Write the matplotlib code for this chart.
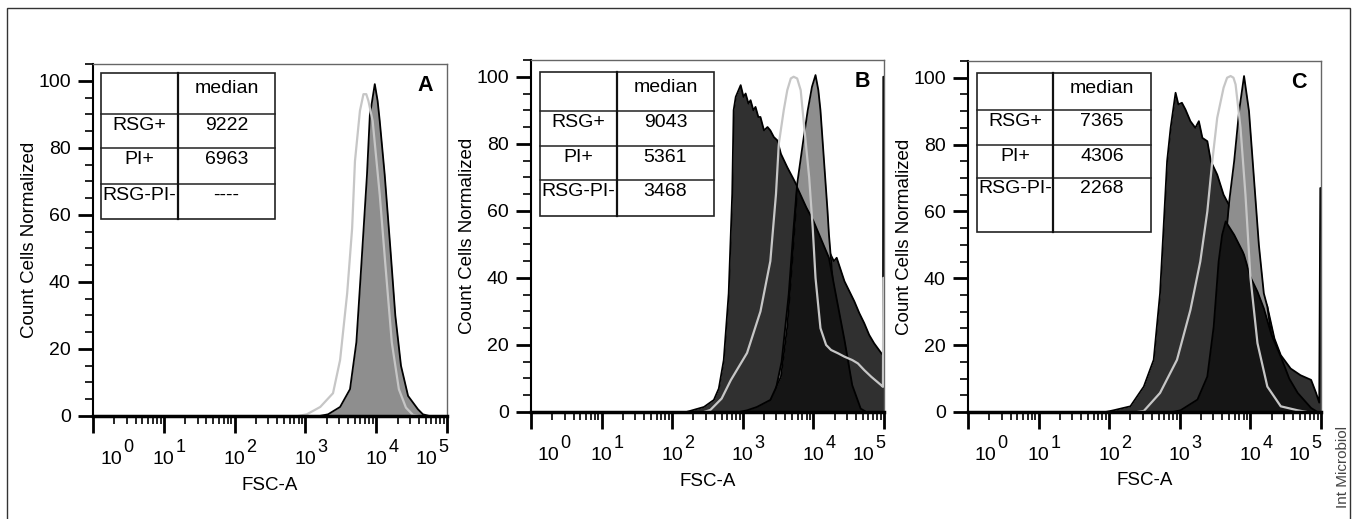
import numpy as np
import matplotlib
matplotlib.use("Agg")
import matplotlib.pyplot as plt
from matplotlib.patches import Rectangle
from matplotlib.ticker import LogLocator, MultipleLocator, NullFormatter

plt.rcParams['font.family'] = ['Liberation Sans', 'DejaVu Sans']

# --- data (x as log10 FSC-A, y as normalized count) ---
row_labels = ["RSG+", "PI+", "RSG-PI-"]
medians_a = ["9222", "6963", "----"]
medians_b = ["9043", "5361", "3468"]
medians_c = ["7365", "4306", "2268"]

# panel A
a_pi_lx = [2.90, 3.02, 3.21, 3.39, 3.49, 3.59, 3.66, 3.70, 3.77, 3.82, 3.86, 3.89, 3.95, 4.05, 4.13, 4.22, 4.32, 4.42, 4.52, 4.60]
a_pi_y = [0, 0.5, 2.7, 6.8, 16.7, 36.6, 56, 76, 91, 96, 96, 94, 88, 66, 45, 22, 8, 2.5, 0.3, 0]
a_rsg_lx = [3.20, 3.32, 3.49, 3.63, 3.72, 3.79, 3.87, 3.91, 3.98, 4.02, 4.05, 4.12, 4.20, 4.27, 4.35, 4.45, 4.59, 4.66, 4.75]
a_rsg_y = [0, 0.5, 2.7, 8, 22, 45, 72, 89.6, 99, 94, 88, 72, 50, 30, 15, 6, 2, 0.5, 0]

# panel B
b_all_lx = [2.20, 2.30, 2.45, 2.59, 2.66, 2.73, 2.80, 2.85, 2.87, 2.90, 2.94, 2.97, 3.01, 3.04, 3.08, 3.11,
            3.15, 3.18, 3.22, 3.25, 3.30, 3.35, 3.39, 3.44, 3.49, 3.54, 3.63, 3.73, 3.80, 3.87, 3.94, 4.01,
            4.08, 4.15, 4.22, 4.29, 4.33, 4.44, 4.51, 4.58, 4.65, 4.72, 4.79, 4.86, 4.96, 4.985, 4.99, 5.0]
b_all_y = [0, 0.6, 1.5, 3.6, 7, 15.5, 35.4, 65, 90, 94, 96, 97.5, 94, 95, 92, 93,
           90, 91, 88, 88, 84, 85, 84, 82, 81, 77, 73, 69, 66, 63, 60, 57,
           54, 51, 48, 45, 46, 39, 36, 33, 29.5, 26.5, 23, 20.5, 17.6, 17, 100, 100]
b_pi_lx = [2.45, 2.54, 2.70, 2.83, 3.06, 3.25, 3.39, 3.47, 3.51, 3.58, 3.63, 3.68, 3.72, 3.77, 3.82, 3.87,
           3.94, 3.99, 4.03, 4.10, 4.18, 4.25, 4.35, 4.44, 4.55, 4.63, 4.72, 4.82, 4.96, 4.985, 4.99, 5.0]
b_pi_y = [0, 0.6, 4, 9.5, 17.6, 30, 45, 65, 80, 90, 96, 99.5, 100, 99.5, 96, 85,
          70, 55, 40, 25, 20, 18.5, 17.5, 16.5, 15.5, 14.5, 12.5, 10.5, 8, 7.5, 40, 40]
b_rsg_lx = [3.30, 3.45, 3.55, 3.65, 3.72, 3.77, 3.85, 3.92, 3.98, 4.03, 4.07, 4.10, 4.15, 4.20, 4.22, 4.29, 4.39, 4.53, 4.67]
b_rsg_y = [0, 5, 15, 35, 55, 68, 80, 90, 97, 100.5, 96, 90, 75, 60, 53, 35, 15.5, 2.7, 0]
b_neg_lx = [2.95, 3.06, 3.20, 3.39, 3.54, 3.63, 3.70, 3.75, 3.77, 3.90, 4.00, 4.10, 4.22, 4.30, 4.44, 4.55, 4.67, 4.75]
b_neg_y = [0, 0.5, 1.5, 3.6, 10.5, 25.4, 45, 60, 67, 61, 57, 52, 46, 37, 21.5, 8, 1, 0]

# panel C
c_all_lx = [1.95, 2.06, 2.30, 2.49, 2.63, 2.72, 2.77, 2.82, 2.87, 2.94, 2.98, 3.03, 3.08, 3.15, 3.22, 3.27,
            3.32, 3.39, 3.44, 3.53, 3.62, 3.72, 3.81, 3.91, 4.00, 4.10, 4.19, 4.24, 4.34, 4.43, 4.57, 4.71,
            4.86, 4.93, 4.975, 4.99, 5.0]
c_all_y = [0, 0.5, 1.7, 7.6, 15.6, 35.5, 55, 75, 85, 95.5, 92, 92.5, 90.5, 87, 85, 87,
           82, 81, 75, 71, 65, 61, 55, 49, 43, 38, 34, 31.5, 22, 17, 13, 11,
           9.6, 5.7, 2.8, 67, 67]
c_pi_lx = [2.40, 2.49, 2.72, 2.96, 3.15, 3.29, 3.39, 3.46, 3.53, 3.62, 3.67, 3.72, 3.76, 3.79, 3.86, 3.93,
           4.00, 4.10, 4.24, 4.43, 4.67, 4.80]
c_pi_y = [0, 0.3, 5.7, 15.6, 30.5, 45, 60, 75, 88, 97, 100, 100.5, 100, 98, 85, 65,
          40.4, 20.6, 7.6, 1.7, 0.5, 0]
c_rsg_lx = [3.20, 3.40, 3.50, 3.60, 3.70, 3.77, 3.84, 3.91, 3.98, 4.05, 4.12, 4.19, 4.24, 4.35, 4.50, 4.60]
c_rsg_y = [0, 8, 20, 40, 63, 75, 90, 100.5, 90, 70, 50, 35.5, 31.5, 15, 4, 0]
c_neg_lx = [2.90, 3.01, 3.25, 3.39, 3.48, 3.55, 3.60, 3.65, 3.77, 3.89, 3.91, 4.00, 4.10, 4.19, 4.30, 4.43,
            4.55, 4.67, 4.86, 4.95]
c_neg_y = [0, 0.5, 3.7, 10.6, 25.5, 45, 53, 57, 53, 48, 47, 40.4, 36, 31, 23, 16.6,
           10, 5.7, 1.2, 0]

W, H = 1354, 519
fig = plt.figure(figsize=(W / 100, H / 100), dpi=100)

# axes boxes in pixels: left, right, top, bottom
boxes = [(93, 447, 64, 416), (531, 884, 60, 412), (968, 1321, 61, 412)]
# table geometry (axes fraction): x0, column divider, x1, row boundaries top->bottom
tables = [
    (0.0226, 0.240, 0.514, [0.974, 0.858, 0.761, 0.659, 0.560]),
    (0.0255, 0.2436, 0.518, [0.966, 0.855, 0.756, 0.659, 0.557]),
    (0.0255, 0.241, 0.518, [0.966, 0.861, 0.761, 0.668, 0.514]),
]
xlab_first = [18, 17, 17]
xlab_last = [-21, -21, -22]

DARK = "#303030"
BLACK = "#151515"
GREY = "#8e8e8e"
LIGHT = "#c6c6c6"


def filled(ax, lx, y, color, z):
    x = np.power(10.0, lx)
    ax.fill_between(x, y, 0, color=color, lw=0, zorder=z)
    ax.plot(x, y, color="black", lw=1.3, zorder=z + 0.1)


def line(ax, lx, y, z):
    ax.plot(np.power(10.0, lx), y, color=LIGHT, lw=1.6, zorder=z)


def draw_table(ax, geom, medians):
    x0, xd, x1, ys = geom
    ax.add_patch(Rectangle((x0, ys[-1]), x1 - x0, ys[0] - ys[-1], transform=ax.transAxes,
                           facecolor="white", edgecolor="#222222", lw=1.2, zorder=6))
    for yy in ys[1:-1]:
        ax.plot([x0, x1], [yy, yy], transform=ax.transAxes, color="#222222", lw=1.1, zorder=7)
    ax.plot([xd, xd], [ys[0], ys[-1]], transform=ax.transAxes, color="#111111", lw=1.6, zorder=7)
    c1 = (x0 + xd) / 2
    c2 = (xd + x1) / 2
    ax.text(c2, ys[0] - 0.043, "median", transform=ax.transAxes, ha="center", va="center",
            fontsize=14, zorder=8)
    for i, (lab, med) in enumerate(zip(row_labels, medians)):
        yy = ys[i + 1] - 0.032
        ax.text(c1, yy, lab, transform=ax.transAxes, ha="center", va="center", fontsize=14, zorder=8)
        ax.text(c2, yy, med, transform=ax.transAxes, ha="center", va="center", fontsize=14, zorder=8)


def setup(ax, letter, idx):
    ax.set_xscale("log")
    ax.set_xlim(1, 1e5)
    ax.set_ylim(0, 105)
    ax.xaxis.set_major_locator(LogLocator(base=10, numticks=10))
    ax.xaxis.set_minor_locator(LogLocator(base=10, subs=np.arange(2, 10), numticks=20))
    ax.xaxis.set_major_formatter(NullFormatter())
    ax.xaxis.set_minor_formatter(NullFormatter())
    ax.yaxis.set_major_locator(MultipleLocator(20))
    ax.yaxis.set_minor_locator(MultipleLocator(5))
    ax.tick_params(axis="x", which="major", direction="out", length=12, width=2, color="black")
    ax.tick_params(axis="x", which="minor", direction="out", length=6, width=1.2, color="black")
    ax.tick_params(axis="y", which="major", direction="out", length=11, width=2, color="black",
                   labelsize=14, pad=5)
    ax.tick_params(axis="y", which="minor", direction="out", length=6, width=1.2, color="black")
    for s in ("top", "right"):
        ax.spines[s].set_color("#666666")
        ax.spines[s].set_linewidth(1.0)
    ax.spines["left"].set_linewidth(1.5)
    ax.spines["bottom"].set_linewidth(2.5)
    ax.spines["bottom"].set_zorder(9)

    for k in range(6):
        dx = 0
        if k == 0:
            dx = xlab_first[idx]
        elif k == 5:
            dx = xlab_last[idx]
        ax.annotate("10", xy=(10.0 ** k, 0), xycoords=("data", "axes fraction"), xytext=(dx, -43),
                    textcoords="offset pixels", ha="center", va="center", fontsize=14,
                    annotation_clip=False)
        ax.annotate(str(k), xy=(10.0 ** k, 0), xycoords=("data", "axes fraction"), xytext=(dx + 17, -32),
                    textcoords="offset pixels", ha="center", va="center", fontsize=13,
                    annotation_clip=False)

    ax.set_ylabel("Count Cells Normalized", fontsize=13.5)
    ax.yaxis.set_label_coords(-0.155, 0.5)
    ax.set_xlabel("FSC-A", fontsize=13.5)
    ax.xaxis.set_label_coords(0.5, -0.172)
    ax.text(0.938, 0.94, letter, transform=ax.transAxes, ha="center", va="center",
            fontsize=15.5, fontweight="bold", zorder=8)


axes = []
for (l, r, t, b) in boxes:
    axes.append(fig.add_axes([l / W, (H - b) / H, (r - l) / W, (b - t) / H]))

# A
ax = axes[0]
setup(ax, "A", 0)
filled(ax, a_rsg_lx, a_rsg_y, GREY, 3)
line(ax, a_pi_lx, a_pi_y, 5)
draw_table(ax, tables[0], medians_a)

# B
ax = axes[1]
setup(ax, "B", 1)
filled(ax, b_all_lx, b_all_y, DARK, 2)
filled(ax, b_rsg_lx, b_rsg_y, GREY, 3)
filled(ax, b_neg_lx, b_neg_y, BLACK, 4)
line(ax, b_pi_lx, b_pi_y, 5)
draw_table(ax, tables[1], medians_b)

# C
ax = axes[2]
setup(ax, "C", 2)
filled(ax, c_all_lx, c_all_y, DARK, 2)
filled(ax, c_rsg_lx, c_rsg_y, GREY, 3)
filled(ax, c_neg_lx, c_neg_y, BLACK, 4)
line(ax, c_pi_lx, c_pi_y, 5)
draw_table(ax, tables[2], medians_c)

# outer frame and journal tag
fig.add_artist(Rectangle((7 / W, -0.05), (1350 - 7) / W, 1 - 8 / H + 0.05, transform=fig.transFigure,
                         fill=False, edgecolor="#333333", lw=1.0))
fig.text(1343 / W, 1 - 467 / H, "Int Microbiol", rotation=90, ha="center", va="center",
         fontsize=11, color="#444444")

fig.savefig("out.png", dpi=100)
